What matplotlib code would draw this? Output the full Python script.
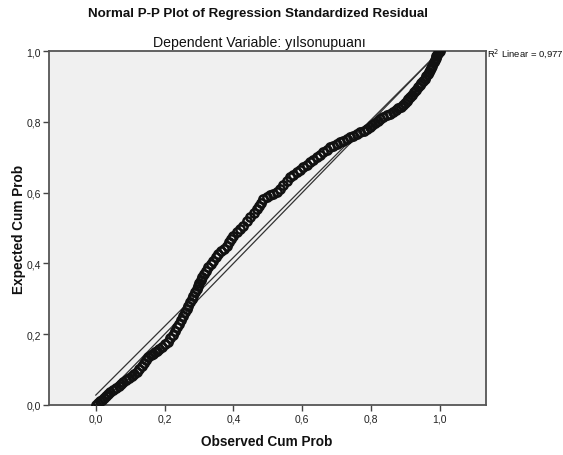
import numpy as np
import matplotlib
matplotlib.use("Agg")
import matplotlib.pyplot as plt

plt.rcParams['font.family'] = ['Liberation Sans', 'DejaVu Sans']

# observed vs expected cumulative probabilities of the standardized residuals
observed = [
    0.000, 0.006, 0.012, 0.018, 0.024, 0.030, 0.036, 0.042, 0.050, 0.058,
    0.066, 0.073, 0.080, 0.088, 0.096, 0.104, 0.112, 0.119, 0.126, 0.133,
    0.140, 0.147, 0.153, 0.159, 0.165, 0.171, 0.177, 0.185, 0.193, 0.202,
    0.211, 0.217, 0.223, 0.229, 0.235, 0.241, 0.247, 0.253, 0.259, 0.264,
    0.269, 0.274, 0.279, 0.283, 0.288, 0.293, 0.297, 0.301, 0.305, 0.308,
    0.314, 0.320, 0.327, 0.334, 0.341, 0.348, 0.356, 0.364, 0.372, 0.380,
    0.387, 0.394, 0.400, 0.410, 0.420, 0.429, 0.439, 0.449, 0.459, 0.468,
    0.474, 0.480, 0.487, 0.497, 0.507, 0.516, 0.526, 0.535, 0.545, 0.555,
    0.564, 0.574, 0.584, 0.593, 0.603, 0.613, 0.623, 0.632, 0.642, 0.652,
    0.661, 0.671, 0.680, 0.690, 0.700, 0.710, 0.719, 0.729, 0.739, 0.748,
    0.758, 0.768, 0.778, 0.787, 0.797, 0.804, 0.811, 0.819, 0.826, 0.836,
    0.845, 0.855, 0.864, 0.871, 0.879, 0.886, 0.893, 0.898, 0.903, 0.908,
    0.913, 0.919, 0.925, 0.931, 0.937, 0.942, 0.946, 0.951, 0.956, 0.960,
    0.964, 0.968, 0.971, 0.975, 0.978, 0.982, 0.985, 0.988, 0.990, 0.993,
    0.995, 0.998, 1.000,
]
expected = [
    0.000, 0.005, 0.010, 0.015, 0.021, 0.026, 0.031, 0.036, 0.042, 0.048,
    0.054, 0.059, 0.064, 0.070, 0.075, 0.081, 0.087, 0.092, 0.101, 0.110,
    0.119, 0.127, 0.135, 0.140, 0.144, 0.149, 0.153, 0.159, 0.164, 0.171,
    0.177, 0.188, 0.198, 0.209, 0.219, 0.230, 0.240, 0.251, 0.262, 0.271,
    0.280, 0.290, 0.299, 0.307, 0.318, 0.328, 0.337, 0.346, 0.354, 0.361,
    0.370, 0.379, 0.389, 0.398, 0.407, 0.417, 0.427, 0.435, 0.442, 0.450,
    0.460, 0.470, 0.478, 0.488, 0.498, 0.507, 0.519, 0.531, 0.543, 0.554,
    0.563, 0.572, 0.582, 0.587, 0.592, 0.596, 0.601, 0.611, 0.622, 0.633,
    0.643, 0.650, 0.657, 0.664, 0.671, 0.678, 0.686, 0.693, 0.700, 0.707,
    0.714, 0.721, 0.728, 0.733, 0.738, 0.743, 0.747, 0.752, 0.757, 0.761,
    0.766, 0.771, 0.775, 0.779, 0.784, 0.790, 0.796, 0.803, 0.809, 0.814,
    0.818, 0.823, 0.828, 0.833, 0.838, 0.842, 0.847, 0.853, 0.858, 0.864,
    0.870, 0.877, 0.884, 0.891, 0.898, 0.904, 0.909, 0.916, 0.922, 0.928,
    0.934, 0.940, 0.945, 0.953, 0.959, 0.968, 0.974, 0.981, 0.985, 0.990,
    0.994, 0.998, 1.000,
]

# linear fit line shown on the chart
fit_intercept = 0.028
fit_slope = 0.972
r2_linear = 0.977

ticks = [0.0, 0.2, 0.4, 0.6, 0.8, 1.0]
tick_labels = ["0,0", "0,2", "0,4", "0,6", "0,8", "1,0"]

W, H = 563, 456
fig = plt.figure(figsize=(W / 100, H / 100), dpi=100)
ax = fig.add_axes([49 / W, 1 - 406 / H, (486 - 49) / W, (406 - 52) / H])
ax.set_facecolor("#f0f0f0")

# reference diagonal and fit line
ax.plot([0, 1], [0, 1], color="#333333", lw=0.9, zorder=2)
fx = np.array([0.0, 1.0])
ax.plot(fx, fit_intercept + fit_slope * fx, color="#333333", lw=0.9, zorder=2)

ax.plot(observed, expected, linestyle="none", marker="o", markersize=6,
        markerfacecolor="none", markeredgecolor="#111111", markeredgewidth=1.8,
        zorder=3)

ax.set_xlim(-0.136, 1.134)
ax.set_ylim(0, 1)
ax.set_xticks(ticks)
ax.set_xticklabels(tick_labels)
ax.set_yticks(ticks)
ax.set_yticklabels(tick_labels)
ax.tick_params(direction="out", length=4, width=1, colors="#444444",
               labelcolor="#222222", labelsize=7.5, pad=2)
for s in ax.spines.values():
    s.set_color("#555555")
    s.set_linewidth(1.3)

fig.text(258 / W, 1 - 14 / H, "Normal P-P Plot of Regression Standardized Residual",
         ha="center", va="center", fontsize=9.6, fontweight="bold", color="#111111")
fig.text(259 / W, 1 - 43 / H, "Dependent Variable: yılsonupuanı",
         ha="center", va="center", fontsize=10.2, color="#111111")
fig.text(267 / W, 1 - 442 / H, "Observed Cum Prob", ha="center", va="center",
         fontsize=9.8, fontweight="bold", color="#111111")
fig.text(19 / W, 1 - 229 / H, "Expected Cum Prob", ha="center", va="center",
         rotation=90, fontsize=9.8, fontweight="bold", color="#111111")
fig.text(487 / W, 1 - 54 / H, "R$^2$ Linear = " + f"{r2_linear:.3f}".replace(".", ","),
         ha="left", va="center", fontsize=6.8, color="#111111")

fig.savefig("out.png", dpi=100)
